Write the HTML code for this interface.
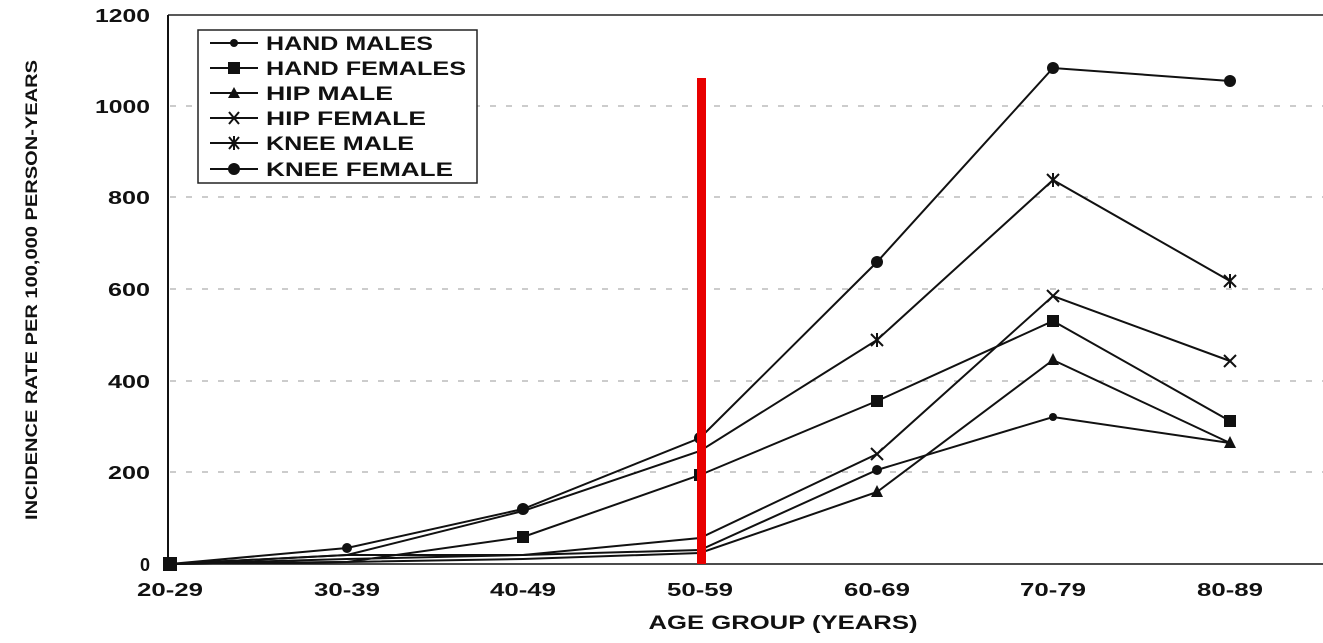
<!DOCTYPE html>
<html><head><style>body{margin:0;background:#fff}</style></head><body>
<svg width="1323" height="638" xmlns="http://www.w3.org/2000/svg" font-family="Liberation Sans, Arial, sans-serif" font-weight="bold">
<rect width="1323" height="638" fill="#fff"/>
<g stroke="#999" stroke-dasharray="6,10" stroke-width="1">
<line x1="170" x2="1323" y1="106" y2="106"/><line x1="170" x2="1323" y1="197" y2="197"/>
<line x1="170" x2="1323" y1="289" y2="289"/><line x1="170" x2="1323" y1="381" y2="381"/>
<line x1="170" x2="1323" y1="472" y2="472"/>
</g>
<line x1="168" y1="15" x2="1323" y2="15" stroke="#222" stroke-width="1.5"/>
<line x1="168" y1="15" x2="168" y2="564" stroke="#111" stroke-width="2"/>
<line x1="168" y1="564" x2="1323" y2="564" stroke="#111" stroke-width="1.5"/>
<g font-size="18" text-anchor="end" fill="#111" lengthAdjust="spacingAndGlyphs">
<text x="150" y="22" textLength="55" lengthAdjust="spacingAndGlyphs">1200</text><text x="150" y="113" textLength="55" lengthAdjust="spacingAndGlyphs">1000</text><text x="150" y="204" textLength="42" lengthAdjust="spacingAndGlyphs">800</text>
<text x="150" y="296" textLength="42" lengthAdjust="spacingAndGlyphs">600</text><text x="150" y="388" textLength="42" lengthAdjust="spacingAndGlyphs">400</text><text x="150" y="479" textLength="42" lengthAdjust="spacingAndGlyphs">200</text><text x="150" y="571">0</text>
</g>
<g font-size="18" text-anchor="middle" fill="#111">
<text x="170" y="596" textLength="66" lengthAdjust="spacingAndGlyphs">20-29</text><text x="347" y="596" textLength="66" lengthAdjust="spacingAndGlyphs">30-39</text><text x="523" y="596" textLength="66" lengthAdjust="spacingAndGlyphs">40-49</text>
<text x="700" y="596" textLength="66" lengthAdjust="spacingAndGlyphs">50-59</text><text x="877" y="596" textLength="66" lengthAdjust="spacingAndGlyphs">60-69</text><text x="1053" y="596" textLength="66" lengthAdjust="spacingAndGlyphs">70-79</text><text x="1230" y="596" textLength="66" lengthAdjust="spacingAndGlyphs">80-89</text>
<text x="783" y="629" font-size="19" textLength="269" lengthAdjust="spacingAndGlyphs">AGE GROUP (YEARS)</text>
</g>
<text transform="translate(37,290) rotate(-90)" font-size="17" text-anchor="middle" fill="#111" textLength="460" lengthAdjust="spacingAndGlyphs">INCIDENCE RATE PER 100,000 PERSON-YEARS</text>
<g fill="none" stroke="#111" stroke-width="2">
<polyline points="170,564 347,559 523,555 700,550 877,470 1053,417 1230,443"/>
<polyline points="170,564 347,562 523,537 700,475 877,401 1053,321 1230,421"/>
<polyline points="170,564 347,562 523,559 700,553 877,492 1053,360 1230,443"/>
<polyline points="170,564 347,555 523,555 700,538 877,454 1053,296 1230,361"/>
<polyline points="170,564 347,555 523,511 700,451 877,340 1053,180 1230,281"/>
<polyline points="170,564 347,548 523,509 700,438 877,262 1053,68 1230,81"/>
</g>
<g fill="#111">
<circle cx="877" cy="470" r="5"/><circle cx="1053" cy="417" r="4"/>
<rect x="517" y="531" width="12" height="12"/><rect x="694" y="469" width="12" height="12"/><rect x="871" y="395" width="12" height="12"/><rect x="1047" y="315" width="12" height="12"/><rect x="1224" y="415" width="12" height="12"/>
<polygon points="877,485 871,497 883,497"/><polygon points="1053,353 1047,365 1059,365"/><polygon points="1230,436 1224,448 1236,448"/>
<circle cx="523" cy="509" r="6"/><circle cx="700" cy="438" r="6"/><circle cx="877" cy="262" r="6"/><circle cx="1053" cy="68" r="6"/><circle cx="1230" cy="81" r="6"/>
<rect x="163" y="557" width="14" height="14"/><circle cx="347" cy="548" r="5"/>
</g>
<g stroke="#111" stroke-width="2">
<path d="M871,448l12,12M883,448l-12,12M1047,290l12,12M1059,290l-12,12M1224,355l12,12M1236,355l-12,12"/>
<path d="M871,334l12,12M883,334l-12,12M877,333v14M1047,174l12,12M1059,174l-12,12M1053,173v14M1224,275l12,12M1236,275l-12,12M1230,274v14"/>
</g>
<rect x="697" y="78" width="9" height="486" fill="#e80000"/>
<rect x="198" y="30" width="279" height="153" fill="#fff" stroke="#222" stroke-width="1.5"/>
<g stroke="#111" stroke-width="2"><line x1="210" x2="258" y1="43" y2="43"/><line x1="210" x2="258" y1="68" y2="68"/><line x1="210" x2="258" y1="93" y2="93"/><line x1="210" x2="258" y1="118" y2="118"/><line x1="210" x2="258" y1="143" y2="143"/><line x1="210" x2="258" y1="169" y2="169"/>
<path d="M229,112l10,12M239,112l-10,12M229,137l10,12M239,137l-10,12M234,136v14"/></g>
<g fill="#111"><circle cx="234" cy="43" r="4"/><rect x="228" y="62" width="12" height="12"/><polygon points="234,87 228,98 240,98"/><circle cx="234" cy="169" r="6"/></g>
<g font-size="19" fill="#111"><text x="266" y="50" textLength="167" lengthAdjust="spacingAndGlyphs">HAND MALES</text><text x="266" y="75" textLength="200" lengthAdjust="spacingAndGlyphs">HAND FEMALES</text><text x="266" y="100" textLength="127" lengthAdjust="spacingAndGlyphs">HIP  MALE</text><text x="266" y="125" textLength="160" lengthAdjust="spacingAndGlyphs">HIP  FEMALE</text><text x="266" y="150" textLength="148" lengthAdjust="spacingAndGlyphs">KNEE MALE</text><text x="266" y="176" textLength="187" lengthAdjust="spacingAndGlyphs">KNEE  FEMALE</text></g>
</svg>
</body></html>
